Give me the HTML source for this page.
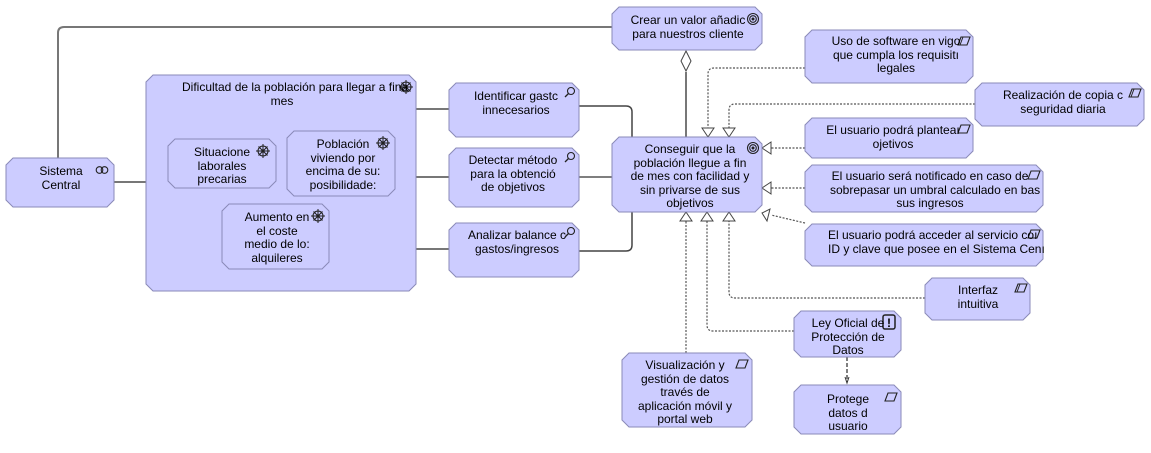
<!DOCTYPE html>
<html><head><meta charset="utf-8"><style>
body{margin:0;width:1151px;height:453px;background:#fff;overflow:hidden;position:relative;font-family:"Liberation Sans",sans-serif;}
svg{position:absolute;left:0;top:0}
.t{position:absolute;text-align:center;white-space:nowrap;font-size:12px;line-height:13.5px;color:#000;width:200px;margin-top:2px}
</style></head><body>
<svg width="1151" height="453" viewBox="0 0 1151 453">
<defs>
<g id="req"><polygon points="-5,4 -2,-4 7,-4 4,4" fill="none" stroke="#222" stroke-width="1.1"/><line x1="-3" y1="4" x2="0" y2="-4" stroke="#222"/></g>
<g id="req1"><polygon points="-5,4 -2,-4 7,-4 4,4" fill="none" stroke="#222" stroke-width="1.1"/></g>
<g id="mag"><circle cx="2" cy="-2" r="3.5" fill="none" stroke="#222" stroke-width="1.1"/><line x1="-0.5" y1="0.5" x2="-4" y2="4" stroke="#222" stroke-width="1.3"/></g>
<g id="goal"><circle r="5.5" fill="none" stroke="#222" stroke-width="1.1"/><circle r="3.3" fill="none" stroke="#222" stroke-width="1.1"/><circle r="1.5" fill="#222"/></g>
<g id="drv"><circle r="5" fill="none" stroke="#222" stroke-width="1.1"/><line x1="-7" y1="0" x2="7" y2="0" stroke="#222"/><line x1="0" y1="-7" x2="0" y2="7" stroke="#222"/><line x1="-4.5" y1="-4.5" x2="4.5" y2="4.5" stroke="#222"/><line x1="-4.5" y1="4.5" x2="4.5" y2="-4.5" stroke="#222"/><circle r="1.8" fill="#222"/></g>
</defs>
<g stroke="#777" stroke-width="2" fill="none">
<path d="M58,158 V33 Q58,27 64,27 H612"/>
<line x1="114" y1="182" x2="146" y2="182"/>
<line x1="416" y1="109" x2="449" y2="109"/>
<line x1="416" y1="177" x2="449" y2="177"/>
<line x1="416" y1="249" x2="449" y2="249"/>
<path d="M579,106 H626 Q632,106 632,112 V137" stroke="#444" stroke-width="1.5"/>
<line x1="579" y1="177" x2="612" y2="177" stroke="#555" stroke-width="1.5"/>
<path d="M579,251 H626 Q632,251 632,245 V212" stroke="#444" stroke-width="1.5"/>
<line x1="686" y1="72" x2="686" y2="137"/>
</g>
<polygon points="686,51 691,61 686,71 681,61" fill="#fff" stroke="#444" stroke-width="1"/>
<g stroke="#555" stroke-width="1.2" fill="none" stroke-dasharray="2,1.5">
<path d="M805,68 H714 Q708,68 708,74 V128"/>
<path d="M975,104 H735 Q729,104 729,110 V128"/>
<line x1="805" y1="148" x2="771" y2="148"/>
<line x1="805" y1="188" x2="771" y2="188"/>
<line x1="805" y1="223" x2="771" y2="215"/>
<line x1="686" y1="353" x2="686" y2="221"/>
<path d="M794,331 H713 Q707,331 707,325 V221"/>
<path d="M925,298 H735 Q729,298 729,292 V221"/>
</g>
<g fill="#fff" stroke="#444" stroke-width="1">
<polygon points="702,128 714,128 708,137"/>
<polygon points="723,128 735,128 729,137"/>
<polygon points="771,142 771,154 762,148"/>
<polygon points="771,182 771,194 762,188"/>
<polygon points="770,209 767,221 762,213"/>
<polygon points="680,221 692,221 686,212"/>
<polygon points="701,221 713,221 707,212"/>
<polygon points="723,221 735,221 729,212"/>
</g>
<line x1="847" y1="357" x2="847" y2="382" stroke="#555" stroke-width="1.5" stroke-dasharray="4,2"/>
<polyline points="845,377 847,383 849,377" fill="none" stroke="#333"/>
<g fill="#ccccff" stroke="#8a8ab8" stroke-width="1">
<polygon points="13,158 107,158 114,165 114,200 107,207 13,207 6,200 6,165"/>
<polygon points="153,75 409,75 416,82 416,284 409,291 153,291 146,284 146,82"/>
<polygon points="175,139 269,139 276,146 276,181 269,188 175,188 168,181 168,146"/>
<polygon points="294,131 388,131 395,138 395,189 388,196 294,196 287,189 287,138"/>
<polygon points="229,204 322,204 329,211 329,262 322,269 229,269 222,262 222,211"/>
<polygon points="456,83 572,83 579,90 579,130 572,137 456,137 449,130 449,90"/>
<polygon points="456,148 572,148 579,155 579,200 572,207 456,207 449,200 449,155"/>
<polygon points="456,223 572,223 579,230 579,270 572,277 456,277 449,270 449,230"/>
<polygon points="619,7 755,7 762,14 762,43 755,50 619,50 612,43 612,14"/>
<polygon points="619,137 755,137 762,144 762,205 755,212 619,212 612,205 612,144"/>
<polygon points="812,30 966,30 973,37 973,76 966,83 812,83 805,76 805,37"/>
<polygon points="982,83 1137,83 1144,90 1144,119 1137,126 982,126 975,119 975,90"/>
<polygon points="812,118 966,118 973,125 973,151 966,158 812,158 805,151 805,125"/>
<polygon points="812,165 1036,165 1043,172 1043,205 1036,212 812,212 805,205 805,172"/>
<polygon points="812,224 1036,224 1043,231 1043,259 1036,266 812,266 805,259 805,231"/>
<polygon points="932,278 1023,278 1030,285 1030,313 1023,320 932,320 925,313 925,285"/>
<polygon points="801,311 894,311 901,318 901,350 894,357 801,357 794,350 794,318"/>
<polygon points="801,385 894,385 901,392 901,427 894,434 801,434 794,427 794,392"/>
<polygon points="629,353 745,353 752,360 752,420 745,427 629,427 622,420 622,360"/>
</g>
<g>
<g transform="translate(102,170)"><circle cx="-2.5" r="3.3" fill="none" stroke="#222" stroke-width="1.1"/><circle cx="2.5" r="3.3" fill="none" stroke="#222" stroke-width="1.1"/></g>
<use href="#drv" x="406" y="87"/><use href="#drv" x="263" y="151"/><use href="#drv" x="383" y="143"/><use href="#drv" x="318" y="216"/>
<use href="#mag" x="569" y="93"/><use href="#mag" x="569" y="158"/><use href="#mag" x="569" y="233"/>
<use href="#goal" x="753" y="19"/><use href="#goal" x="753" y="148"/>
<use href="#req" x="963" y="41"/><use href="#req" x="1134" y="93"/><use href="#req1" x="963" y="129"/><use href="#req1" x="1033" y="175"/><use href="#req1" x="1033" y="234"/><use href="#req" x="1020" y="288"/><use href="#req1" x="741" y="364"/><use href="#req1" x="890" y="397"/>
<rect x="883" y="315" width="12" height="14" rx="2" fill="none" stroke="#222" stroke-width="1.5"/><text x="889" y="327" font-size="12" font-weight="bold" text-anchor="middle" font-family="Liberation Sans">!</text>
</g>
</svg>
<div class="t" style="left:-39px;top:163px">Sistema<br>Central</div>
<div class="t" style="left:182px;top:79px">Dificultad de la población para llegar a fina<br>mes</div>
<div class="t" style="left:122px;top:144px">Situacione<br>laborales<br>precarias</div>
<div class="t" style="left:243px;top:136px">Población<br>viviendo por<br>encima de su:<br>posibilidade:</div>
<div class="t" style="left:177px;top:209px">Aumento en<br>el coste<br>medio de lo:<br>alquileres</div>
<div class="t" style="left:416px;top:88px">Identificar gastc<br>innecesarios</div>
<div class="t" style="left:413px;top:152px">Detectar método<br>para la obtenció<br>de objetivos</div>
<div class="t" style="left:417px;top:227px">Analizar balance c<br>gastos/ingresos</div>
<div class="t" style="left:588px;top:12px">Crear un valor añadic<br>para nuestros cliente</div>
<div class="t" style="left:590px;top:141px">Conseguir que la<br>población llegue a fin<br>de mes con facilidad y<br>sin privarse de sus<br>objetivos</div>
<div class="t" style="left:796px;top:33px">Uso de software en vigo<br>que cumpla los requisitı<br>legales</div>
<div class="t" style="left:963px;top:87px">Realización de copia c<br>seguridad diaria</div>
<div class="t" style="left:793px;top:122px">El usuario podrá planteaı<br>ojetivos</div>
<div class="t" style="left:830px;top:168px">El usuario será notificado en caso de<br>sobrepasar un umbral calculado en bas<br>sus ingresos</div>
<div class="t" style="left:828px;top:227px">El usuario podrá acceder al servicio coı<br>ID y clave que posee en el Sistema Cenı</div>
<div class="t" style="left:878px;top:282px">Interfaz<br>intuitiva</div>
<div class="t" style="left:748px;top:315px">Ley Oficial de<br>Protección de<br>Datos</div>
<div class="t" style="left:748px;top:391px">Protege<br>datos d<br>usuario</div>
<div class="t" style="left:585px;top:357px">Visualización y<br>gestión de datos<br>través de<br>aplicación móvil y<br>portal web</div>
</body></html>
